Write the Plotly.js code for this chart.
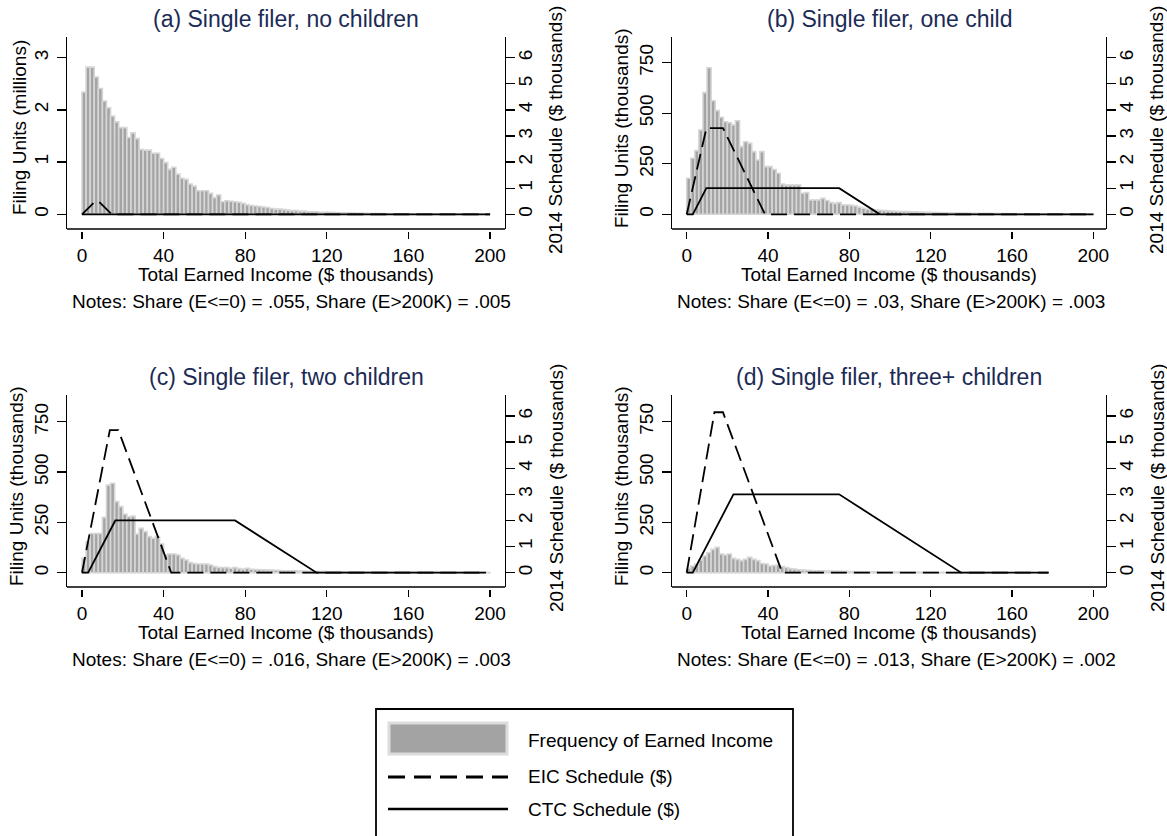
<!DOCTYPE html>
<html>
<head>
<meta charset="utf-8">
<script src="https://cdn.plot.ly/plotly-3.0.1.min.js"></script>
<style>
  html, body { margin: 0; padding: 0; background: #ffffff; }
  #chart { width: 1167px; height: 836px; }
</style>
</head>
<body>
<div id="chart"></div>
<script>
// ---------------- DATA ----------------
const binWidth = 2; // $ thousands per histogram bin

// Histogram heights per $2K bin (panel a in millions, others in thousands)
const freqNoKids = [2.34,2.82,2.82,2.63,2.41,2.17,2.04,1.88,1.77,1.66,
  1.66,1.47,1.56,1.45,1.24,1.23,1.23,1.17,1.17,1.07,
  0.99,0.86,0.90,0.77,0.69,0.67,0.58,0.54,0.45,0.45,
  0.45,0.40,0.32,0.37,0.24,0.26,0.25,0.24,0.23,0.21,
  0.18,0.17,0.16,0.15,0.14,0.13,0.11,0.10,0.10,0.09,
  0.08,0.07,0.07,0.06,0.06,0.05,0.05,0.05,0.04,0.04,
  0.04,0.035,0.03,0.03,0.03,0.025,0.025,0.02,0.02,0.02,
  0.015,0.015,0.014,0.013,0.012,0.011,0.010,0.010,0.009,0.009,
  0.008,0.008,0.007,0.007,0.006,0.006,0.006,0.005,0.005,0.005,
  0.005,0.004,0.004,0.004,0.004,0.004,0.003,0.003,0.003,0.003];

const freqOneKid = [178,277,315,417,602,725,562,513,480,458,
  453,442,463,335,359,351,310,269,310,236,
  236,222,203,150,145,145,145,145,104,107,
  71,71,71,79,68,58,54,58,46,46,
  44,41,35,30,25,25,21,20,18,17,
  16,15,14,14,13,12,12,11,10,10,
  9,9,8,8,7,7,6,6,6,5,
  5,5,4,4,4,4,4,3,3,3,
  3,3,3,3,2,2,2,2,2,2,
  2,2,2,2,2,2,1,1,1,1];

const freqTwoKids = [71,154,195,195,195,275,435,444,353,328,
  291,278,281,192,220,204,179,171,179,142,
  88,93,93,88,71,63,50,46,43,43,
  43,38,30,26,25,25,22,25,20,18,
  22,17,16,15,14,13,13,12,11,10,
  10,9,9,8,8,7,7,6,6,6,
  5,5,5,5,4,4,4,4,3,3,
  3,3,3,3,3,2,2,2,2,2,
  2,2,2,2,2,2,1,1,1,1,
  1,1,1,1,1,1,1,1,1,1];

const freqThreeKids = [22,33,43,63,83,99,116,126,93,88,
  93,71,66,60,66,76,66,60,46,43,
  33,36,38,30,26,20,18,15,13,12,
  11,10,10,9,8,8,7,7,6,6,
  5,5,5,4,4,4,4,3,3,3,
  3,3,3,2,2,2,2,2,2,2,
  2,2,1,1,1,1,1,1,1,1,
  1,1,1,1,1,1,1,1,1];

// 2014 EIC schedules ($ thousands): kink points
const eicX_0 = [0, 6.48, 8.11, 14.59, 200];
const eicY_0 = [0, 0.496, 0.496, 0, 0];
const eicX_1 = [0, 9.72, 17.83, 38.511, 200];
const eicY_1 = [0, 3.305, 3.305, 0, 0];
const eicX_2 = [0, 13.65, 17.83, 43.756, 198];
const eicY_2 = [0, 5.46, 5.46, 0, 0];
const eicX_3 = [0, 13.65, 17.83, 46.997, 178];
const eicY_3 = [0, 6.143, 6.143, 0, 0];

// 2014 CTC schedules ($ thousands)
const ctcX_0 = [0, 200];
const ctcY_0 = [0, 0];
const ctcX_1 = [0, 3, 9.667, 75, 95, 200];
const ctcY_1 = [0, 0, 1, 1, 0, 0];
const ctcX_2 = [0, 3, 16.333, 75, 115, 198];
const ctcY_2 = [0, 0, 2, 2, 0, 0];
const ctcX_3 = [0, 3, 23, 75, 135, 178];
const ctcY_3 = [0, 0, 3, 3, 0, 0];

const panelTitles = ["(a) Single filer, no children", "(b) Single filer, one child",
                     "(c) Single filer, two children", "(d) Single filer, three+ children"];
const leftTitles = ["Filing Units (millions)", "Filing Units (thousands)",
                    "Filing Units (thousands)", "Filing Units (thousands)"];
const rightTitle = "2014 Schedule ($ thousands)";
const xTitle = "Total Earned Income ($ thousands)";
const notes = ["Notes: Share (E<=0) = .055, Share (E>200K) = .005",
               "Notes: Share (E<=0) = .03, Share (E>200K) = .003",
               "Notes: Share (E<=0) = .016, Share (E>200K) = .003",
               "Notes: Share (E<=0) = .013, Share (E>200K) = .002"];
const xTicks = [0, 40, 80, 120, 160, 200];
const leftTicksA = [0, 1, 2, 3];
const leftTicksK = [0, 250, 500, 750];
const rightTicks = [0, 1, 2, 3, 4, 5, 6];
const legendLabels = ["Frequency of Earned Income", "EIC Schedule ($)", "CTC Schedule ($)"];

// ---------------- LAYOUT HELPERS ----------------
const W = 1167, H = 836;
const fx = p => p / W;
const fy = p => 1 - p / H;
const FONT = "Liberation Sans, Arial, Helvetica, sans-serif";
const TITLE_COLOR = "#1c2b55";

const freqs = [freqNoKids, freqOneKid, freqTwoKids, freqThreeKids];
const eics = [[eicX_0, eicY_0], [eicX_1, eicY_1], [eicX_2, eicY_2], [eicX_3, eicY_3]];
const ctcs = [[ctcX_0, ctcY_0], [ctcX_1, ctcY_1], [ctcX_2, ctcY_2], [ctcX_3, ctcY_3]];

// pixel geometry of the four plot regions
const panels = [
  {L: 67,  R: 505,  T: 37,  B: 229, xr: [-7.353, 207.35], yl: [-0.2816, 3.3966], yr: [-0.5632, 6.793], lt: leftTicksA, ltOff: 48},
  {L: 672, R: 1106, T: 37,  B: 229, xr: [-7.23, 206.25],  yl: [-72.72, 877.2],   yr: [-0.5632, 6.793], lt: leftTicksK, ltOff: 51},
  {L: 67,  R: 505,  T: 395, B: 587, xr: [-7.353, 207.35], yl: [-71.03, 882.6],   yr: [-0.5475, 6.804], lt: leftTicksK, ltOff: 51},
  {L: 672, R: 1106, T: 395, B: 587, xr: [-7.23, 206.25],  yl: [-71.03, 882.6],   yr: [-0.5475, 6.804], lt: leftTicksK, ltOff: 51}
];

const traces = [];
const layout = {
  width: W, height: H,
  margin: {l: 0, r: 0, t: 0, b: 0, pad: 0},
  paper_bgcolor: "#ffffff", plot_bgcolor: "rgba(0,0,0,0)",
  showlegend: false, bargap: 0,
  font: {family: FONT, size: 19, color: "#000"},
  annotations: [], shapes: []
};

panels.forEach((p, i) => {
  const xa = i === 0 ? "x" : "x" + (i + 1);
  const yl = i === 0 ? "y" : "y" + (2 * i + 1);
  const yr = "y" + (2 * i + 2);
  const xKey = i === 0 ? "xaxis" : "xaxis" + (i + 1);
  const ylKey = i === 0 ? "yaxis" : "yaxis" + (2 * i + 1);
  const yrKey = "yaxis" + (2 * i + 2);

  const f = freqs[i];
  traces.push({
    type: "bar", xaxis: xa, yaxis: yl,
    x: f.map((_, k) => k * binWidth + binWidth / 2),
    y: f, width: binWidth,
    marker: {color: "#a4a4a4", line: {color: "#d6d6d6", width: 1.6}},
    hoverinfo: "skip"
  });
  traces.push({
    type: "scatter", mode: "lines", xaxis: xa, yaxis: yr,
    x: eics[i][0], y: eics[i][1],
    line: {color: "#000", width: 1.8, dash: "16px,7px"}, hoverinfo: "skip"
  });
  traces.push({
    type: "scatter", mode: "lines", xaxis: xa, yaxis: yr,
    x: ctcs[i][0], y: ctcs[i][1],
    line: {color: "#000", width: 1.8}, hoverinfo: "skip"
  });

  layout[xKey] = {
    domain: [fx(p.L), fx(p.R)], range: p.xr, anchor: "free", position: fy(p.B + 2),
    showline: false, showgrid: false, zeroline: false,
    ticks: "outside", ticklen: 7, tickwidth: 1.3, tickcolor: "#000",
    tickvals: xTicks, ticktext: xTicks.map(String), ticklabelstandoff: 0,
    tickfont: {family: FONT, size: 19, color: "#000"}, fixedrange: true
  };
  layout[ylKey] = {
    domain: [fy(p.B), fy(p.T)], range: p.yl, anchor: xa,
    showline: true, linecolor: "#000", linewidth: 1.4, mirror: false,
    showgrid: false, zeroline: false,
    ticks: "outside", ticklen: 9, tickwidth: 1.3, tickcolor: "#000",
    tickvals: p.lt, ticktext: p.lt.map(String), tickangle: -90, ticklabelstandoff: 1,
    tickfont: {family: FONT, size: 19, color: "#000"}, fixedrange: true
  };
  layout[yrKey] = {
    domain: [fy(p.B), fy(p.T)], range: p.yr, anchor: xa, overlaying: yl, side: "right",
    showline: true, linecolor: "#000", linewidth: 1.4,
    showgrid: false, zeroline: false,
    ticks: "outside", ticklen: 9, tickwidth: 1.3, tickcolor: "#000",
    tickvals: rightTicks, ticktext: rightTicks.map(String), tickangle: -90, ticklabelstandoff: -6,
    tickfont: {family: FONT, size: 19, color: "#000"}, fixedrange: true
  };

  // bottom frame line of plot region
  layout.shapes.push({type: "line", xref: "paper", yref: "paper",
    x0: fx(p.L), x1: fx(p.R), y0: fy(p.B), y1: fy(p.B),
    line: {color: "#000", width: 1.4}});

  const cx = (p.L + p.R) / 2;
  layout.annotations.push(
    {text: panelTitles[i], xref: "paper", yref: "paper", x: fx(cx), y: fy(p.T - 18),
     xanchor: "center", yanchor: "middle", showarrow: false,
     font: {family: FONT, size: 23, color: TITLE_COLOR}},
    {text: xTitle, xref: "paper", yref: "paper", x: fx(cx), y: fy(p.B + 45),
     xanchor: "center", yanchor: "middle", showarrow: false,
     font: {family: FONT, size: 19, color: "#000"}},
    {text: notes[i], xref: "paper", yref: "paper", x: fx(p.L + 3), y: fy(p.B + 72),
     xanchor: "left", yanchor: "middle", showarrow: false,
     font: {family: FONT, size: 19, color: "#000"}},
    {text: leftTitles[i], xref: "paper", yref: "paper", x: fx(p.L - p.ltOff), y: fy((p.T + p.B) / 2 - 5),
     xanchor: "center", yanchor: "middle", textangle: -90, showarrow: false,
     font: {family: FONT, size: 19, color: "#000"}},
    {text: rightTitle, xref: "paper", yref: "paper", x: fx(p.R + 51), y: fy((p.T + p.B) / 2 - 3),
     xanchor: "center", yanchor: "middle", textangle: -90, showarrow: false,
     font: {family: FONT, size: 19, color: "#000"}}
  );
});

// ---------------- LEGEND (drawn box) ----------------
layout.shapes.push(
  {type: "rect", xref: "paper", yref: "paper", x0: fx(376), x1: fx(793), y0: fy(870), y1: fy(709),
   line: {color: "#000", width: 1.8}, fillcolor: "rgba(0,0,0,0)"},
  {type: "rect", xref: "paper", yref: "paper", x0: fx(389), x1: fx(507), y0: fy(754), y1: fy(723),
   line: {color: "#dcdcdc", width: 3}, fillcolor: "#a3a3a3"},
  {type: "line", xref: "paper", yref: "paper", x0: fx(388), x1: fx(508), y0: fy(777), y1: fy(777),
   line: {color: "#000", width: 2.8, dash: "17px,9px"}},
  {type: "line", xref: "paper", yref: "paper", x0: fx(388), x1: fx(508), y0: fy(809), y1: fy(809),
   line: {color: "#000", width: 2.6}}
);
[740, 776, 809].forEach((yy, k) => {
  layout.annotations.push({text: legendLabels[k], xref: "paper", yref: "paper",
    x: fx(526), y: fy(yy), xanchor: "left", yanchor: "middle", showarrow: false,
    font: {family: FONT, size: 19, color: "#000"}});
});

Plotly.newPlot("chart", traces, layout, {displayModeBar: false, staticPlot: true});
</script>
</body>
</html>
